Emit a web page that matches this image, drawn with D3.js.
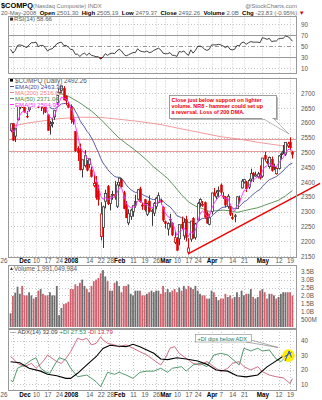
<!DOCTYPE html>
<html><head><meta charset="utf-8">
<script src="https://cdn.jsdelivr.net/npm/d3@7"></script>
<style>
html,body{margin:0;padding:0;background:#fff;}
svg{display:block;}
</style></head><body>
<svg id="c" width="322" height="400"></svg>
<script>
// Trading days shown on the chart
const dates = [
"2007-11-23","2007-11-26","2007-11-27","2007-11-28","2007-11-29","2007-11-30",
"2007-12-03","2007-12-04","2007-12-05","2007-12-06","2007-12-07",
"2007-12-10","2007-12-11","2007-12-12","2007-12-13","2007-12-14",
"2007-12-17","2007-12-18","2007-12-19","2007-12-20","2007-12-21",
"2007-12-24","2007-12-26","2007-12-27","2007-12-28","2007-12-31",
"2008-01-02","2008-01-03","2008-01-04",
"2008-01-07","2008-01-08","2008-01-09","2008-01-10","2008-01-11",
"2008-01-14","2008-01-15","2008-01-16","2008-01-17","2008-01-18",
"2008-01-22","2008-01-23","2008-01-24","2008-01-25",
"2008-01-28","2008-01-29","2008-01-30","2008-01-31","2008-02-01",
"2008-02-04","2008-02-05","2008-02-06","2008-02-07","2008-02-08",
"2008-02-11","2008-02-12","2008-02-13","2008-02-14","2008-02-15",
"2008-02-19","2008-02-20","2008-02-21","2008-02-22",
"2008-02-25","2008-02-26","2008-02-27","2008-02-28","2008-02-29",
"2008-03-03","2008-03-04","2008-03-05","2008-03-06","2008-03-07",
"2008-03-10","2008-03-11","2008-03-12","2008-03-13","2008-03-14",
"2008-03-17","2008-03-18","2008-03-19","2008-03-20",
"2008-03-24","2008-03-25","2008-03-26","2008-03-27","2008-03-28",
"2008-03-31","2008-04-01","2008-04-02","2008-04-03","2008-04-04",
"2008-04-07","2008-04-08","2008-04-09","2008-04-10","2008-04-11",
"2008-04-14","2008-04-15","2008-04-16","2008-04-17","2008-04-18",
"2008-04-21","2008-04-22","2008-04-23","2008-04-24","2008-04-25",
"2008-04-28","2008-04-29","2008-04-30","2008-05-01","2008-05-02",
"2008-05-05","2008-05-06","2008-05-07","2008-05-08","2008-05-09",
"2008-05-12","2008-05-13","2008-05-14","2008-05-15","2008-05-16",
"2008-05-19","2008-05-20"];

const opens = [2574,2597,2555,2610,2653,2690,2655,2622,2645,2664,2712,2711,2718,2710,2650,2655,2627,2590,2597,2620,2668,2702,2710,2716,2690,2660,2653,2612,2571,2514,2506,2443,2455,2460,2460,2441,2388,2400,2369,2216,2247,2335,2384,2328,2355,2357,2318,2399,2407,2364,2320,2262,2284,2300,2335,2342,2377,2319,2340,2291,2336,2303,2295,2318,2330,2337,2315,2266,2241,2274,2262,2196,2206,2208,2258,2218,2273,2163,2207,2278,2213,2272,2329,2323,2330,2293,2257,2300,2363,2350,2371,2390,2353,2350,2318,2318,2281,2286,2310,2345,2380,2400,2400,2383,2410,2430,2420,2418,2430,2420,2490,2470,2452,2477,2448,2428,2446,2493,2505,2494,2522,2535,2501.30];
const highs = [2597,2599,2582,2664,2680,2703,2669,2640,2670,2710,2717,2723,2731,2720,2675,2664,2630,2606,2617,2641,2692,2715,2725,2724,2692,2670,2662,2626,2571,2521,2530,2476,2508,2474,2480,2452,2425,2420,2391,2332,2320,2374,2390,2350,2370,2404,2400,2414,2413,2370,2336,2308,2310,2320,2357,2376,2384,2330,2342,2330,2355,2310,2332,2350,2365,2344,2318,2270,2264,2292,2263,2233,2214,2256,2283,2276,2286,2210,2268,2281,2262,2333,2345,2336,2334,2301,2292,2363,2380,2372,2385,2395,2366,2352,2359,2320,2296,2292,2352,2354,2410,2411,2404,2411,2445,2434,2435,2434,2456,2481,2502,2478,2486,2486,2462,2450,2491,2500,2525,2534,2536,2551,2505.19];
const lows = [2568,2539,2535,2608,2646,2650,2634,2616,2638,2662,2698,2700,2650,2640,2628,2633,2573,2560,2584,2610,2660,2700,2700,2676,2659,2651,2597,2594,2502,2471,2439,2415,2449,2436,2448,2415,2382,2340,2320,2203,2177,2311,2322,2304,2340,2340,2312,2385,2382,2308,2278,2254,2272,2283,2313,2338,2330,2306,2300,2285,2296,2252,2285,2308,2328,2324,2265,2243,2219,2246,2217,2190,2168,2186,2240,2205,2199,2155,2198,2209,2205,2270,2316,2316,2280,2259,2254,2290,2352,2342,2350,2357,2343,2314,2310,2285,2272,2264,2310,2330,2378,2395,2366,2376,2400,2400,2418,2412,2408,2414,2469,2460,2445,2435,2440,2425,2442,2478,2494,2488,2515,2507,2479.37];
const closes = [2596.6,2541,2581,2663,2668,2661,2637,2620,2666,2709,2706,2719,2652,2671,2668,2636,2574,2596,2601,2641,2692,2714,2724,2677,2674,2652,2610,2603,2505,2499,2441,2475,2489,2440,2478,2418,2395,2347,2340,2292,2316,2361,2326,2350,2358,2349,2390,2413,2383,2310,2279,2293,2305,2320,2320,2374,2333,2322,2306,2327,2300,2303,2327,2345,2354,2332,2271,2259,2260,2273,2221,2212,2169,2256,2244,2264,2212,2177,2268,2210,2258,2327,2341,2324,2281,2261,2279,2363,2361,2363,2371,2365,2349,2322,2352,2290,2276,2286,2350,2342,2403,2408,2377,2405,2429,2423,2424,2427,2413,2481,2477,2464,2483,2438,2451,2446,2488,2495,2497,2534,2529,2516.09,2492.26];

// Volume in billions of shares
const volumes = [0.87,1.96,2.17,2.55,2.1,2.6,2.0,2.0,2.2,2.0,1.8,1.9,2.3,2.4,2.1,2.0,2.0,2.2,2.0,2.0,2.6,0.75,1.2,1.45,1.5,1.6,2.4,2.4,2.7,2.6,2.8,3.0,2.6,2.4,2.2,2.6,2.9,3.0,3.1,3.4,3.6,3.2,2.9,2.3,2.3,2.8,2.9,2.6,2.2,2.6,2.6,2.7,2.1,2.0,2.3,2.3,2.3,2.0,2.0,2.1,2.2,2.3,2.2,2.3,2.3,2.1,2.6,2.2,2.4,2.2,2.3,2.4,2.2,2.5,2.3,2.6,2.4,2.6,2.5,2.4,2.6,2.3,2.1,2.0,2.0,1.8,1.8,2.3,2.2,1.9,1.7,1.8,1.8,2.1,1.9,2.0,1.8,1.9,2.2,1.9,2.3,2.0,2.1,2.1,2.4,1.9,1.8,1.9,2.3,2.4,2.2,1.8,2.1,2.1,2.0,1.8,1.9,2.1,2.2,2.2,2.2,2.2,1.991];

// Overlays (one value per trading day)
const ema20 = [2690.0,2675.8,2666.8,2666.4,2666.6,2666.0,2663.3,2659.2,2659.8,2664.5,2668.4,2673.2,2671.2,2671.2,2670.9,2667.6,2658.7,2652.7,2647.8,2647.1,2651.4,2657.3,2663.7,2664.9,2665.8,2664.5,2659.3,2653.9,2639.7,2626.3,2608.7,2596.0,2585.8,2571.9,2563.0,2549.2,2534.5,2516.6,2499.8,2480.0,2464.4,2454.5,2442.3,2433.5,2426.3,2418.9,2416.2,2415.9,2412.8,2403.0,2391.1,2381.8,2374.5,2369.3,2364.6,2365.5,2362.4,2358.6,2353.6,2351.1,2346.2,2342.1,2340.7,2341.1,2342.3,2341.3,2334.6,2327.4,2321.0,2316.4,2307.3,2298.2,2285.9,2283.1,2279.4,2277.9,2271.6,2262.6,2263.1,2258.1,2258.1,2264.6,2271.9,2276.9,2277.3,2275.7,2276.0,2284.3,2291.6,2298.4,2305.3,2311.0,2314.6,2315.3,2318.8,2316.1,2312.3,2309.8,2313.6,2316.3,2324.6,2332.5,2336.7,2343.2,2351.4,2358.2,2364.5,2370.4,2374.5,2384.6,2393.4,2400.1,2408.0,2410.9,2414.7,2417.7,2424.4,2431.1,2437.4,2446.6,2454.4,2460.3,2463.30];
const ema5 = [2585.0,2570.3,2573.9,2603.6,2625.1,2637.1,2637.1,2631.4,2643.0,2665.0,2678.7,2692.1,2678.7,2676.1,2673.4,2660.9,2631.9,2619.9,2613.6,2622.7,2645.8,2668.5,2687.0,2683.7,2680.5,2671.0,2650.7,2634.8,2591.5,2560.7,2520.8,2505.5,2500.0,2480.0,2479.3,2458.9,2437.6,2407.4,2384.9,2353.9,2341.3,2347.9,2340.6,2343.7,2348.5,2348.7,2362.4,2379.3,2380.5,2357.0,2331.0,2318.3,2313.9,2315.9,2317.3,2336.2,2335.1,2330.7,2322.5,2324.0,2316.0,2311.7,2316.8,2326.2,2335.5,2334.3,2313.2,2295.1,2283.4,2279.9,2260.3,2244.2,2219.1,2231.4,2235.6,2245.1,2234.1,2215.1,2232.7,2225.1,2236.1,2266.4,2291.3,2302.2,2295.1,2283.7,2282.1,2309.1,2326.4,2338.6,2349.4,2354.6,2352.7,2342.5,2345.7,2327.1,2310.1,2302.1,2318.0,2326.0,2351.7,2370.5,2372.7,2383.5,2398.6,2406.7,2412.5,2417.3,2415.9,2437.6,2450.7,2455.1,2464.4,2455.6,2454.1,2451.4,2463.6,2474.1,2481.7,2499.1,2509.1,2511.4,2504.95];

// Moving averages as [day index, value]
const ma50 = [[0,2725],[5,2724],[10,2720],[15,2712],[20,2703],[25,2690],[30,2667],[35,2640],[39,2612],[43,2580],[47,2548],[50,2530.2],[53,2512.9],[56,2494.1],[59,2473.3],[62,2450.4],[65,2431.5],[68,2411.9],[71,2385.1],[74,2356.9],[77,2332.7],[80,2318.5],[83,2310.3],[86,2300.9],[89,2303.0],[92,2304.7],[95,2302.8],[98,2297.3],[101,2302.7],[104,2308.1],[107,2313.0],[110,2321.7],[113,2329.9],[116,2338.5],[119,2353.2],[122,2371.04]];
const ma200 = [[0,2588],[8,2600],[21,2614],[30,2619],[39,2618],[47,2612],[56,2604],[65,2594],[73,2581],[82,2567],[91,2553],[99,2545],[108,2533],[117,2523],[122,2516.02]];

// RSI(14), one value per trading day
const rsi = [44,37,42,51,52,51,49,47,52,56,56,57,49,51,51,47,41,44,45,49,54,56,57,51,51,48,44,43,35,35,31,35,37,33,37,33,32,30.5,30.5,26,30,36,33,36,37,36,41,44,41,35,32,34,36,38,38,45,41,40,39,41,38,39,42,44,46,43,37,36,36,38,33,33,31,40,39,41,36,33,43,37,42,49,50,48,44,42,44,52,52,52,53,52,50,47,50,44,43,44,51,50,56,57,53,56,58,57,57,57,56,65,64,62,64,58,59,59,63,64,64,68,67,64,58.66];

// ADX(14), +DI, -DI as [day index, value]
const adx = [[0,25.5],[4,24.8],[8,21],[13,19],[16,16.8],[20,15.8],[24,14],[26,14],[29,17.5],[33,23.3],[37,29],[40,34.8],[43,37],[46,36.5],[50,36],[53,37.7],[56,36],[59,33.7],[62,31.4],[65,27.4],[68,27],[72,28.3],[76,27.4],[81,26],[85,23.7],[89,19.8],[94,19],[98,15.8],[102,15],[107,16.3],[111,22],[114,25.1],[117,28.3],[120,31.4],[122,32.09]];
const plusDI = [[0,12.8],[1,11.6],[3,21],[6,23.3],[9,26.7],[11,28.3],[13,21],[15,18.6],[17,17.4],[19,23.3],[21,28.3],[24,26.7],[26,21],[29,15.1],[33,16.3],[37,11.7],[39,8.2],[42,18.2],[45,16.8],[47,18.2],[50,16.3],[53,14],[56,18.2],[59,19],[62,19],[65,21],[68,18.2],[70,21],[74,22.1],[76,19],[79,23.3],[82,24.4],[85,22.1],[88,30.2],[91,31.4],[94,30.2],[96,27.4],[99,23.3],[101,34.9],[104,33],[107,34.9],[109,33],[112,33.7],[115,27.4],[117,25.6],[120,30.2],[121,31.4],[122,27.53]];
const minusDI = [[0,29],[1,27.9],[3,24.4],[6,22.1],[9,24.4],[11,21],[14,25.6],[16,30.2],[18,27.9],[20,25.6],[22,24.4],[24,27.9],[26,32.5],[29,41.8],[31,40.7],[33,41.8],[35,37.2],[37,38.3],[39,42.9],[40,40.7],[42,38.3],[45,37.2],[47,36],[50,37.2],[53,34.9],[56,32.5],[59,30.2],[62,26.7],[65,23.3],[67,27.9],[69,34.9],[71,36],[73,31.4],[76,27.9],[79,24.4],[82,23.3],[85,25.6],[88,22.1],[91,18.6],[94,21],[96,24.4],[99,25.6],[101,22.1],[104,19.8],[107,22.1],[109,18.6],[112,16.3],[115,15.1],[118,14.4],[120,11.7],[121,10.5],[122,13.79]];

// Hand-drawn study lines on the price panel: [day index, price]
const supportLevels = [2544, 2505];
const trendLine = [[77, 2158], [134, 2395]];

// Axis tick labels
const dateTicks = [["2007-11-26","26"],["2007-12-03","Dec"],["2007-12-10","10"],["2007-12-17","17"],["2007-12-24","24"],["2008-01-02","2008"],["2008-01-14","14"],["2008-01-22","22"],["2008-01-28","28"],["2008-02-01","Feb"],["2008-02-11","11"],["2008-02-19","19"],["2008-02-26","26"],["2008-03-03","Mar"],["2008-03-10","10"],["2008-03-17","17"],["2008-03-24","24"],["2008-04-01","Apr"],["2008-04-07","7"],["2008-04-14","14"],["2008-04-21","21"],["2008-05-01","May"],["2008-05-12","12"],["2008-05-19","19"]];
const boldTicks = ["Dec","2008","Feb","Mar","Apr","May"];
const rsiTicks = [90,70,50,30,10];
const priceTicks = [2700,2650,2600,2550,2500,2450,2400,2350,2300,2250,2200,2150];
const volTicks = [3.5,3.0,2.5,2.0,1.5,1.0,0.5];
const volTickLabels = ["3.5B","3.0B","2.5B","2.0B","1.5B","1.0B","500M"];
const adxTicks = [40,30,20,10];

// ---------------------------------------------------------------
const FONT = '"Liberation Sans", Arial, Helvetica, sans-serif';
const svg = d3.select("#c").style("font-family", FONT);
const L = 8, R = 297;
const n = dates.length;
const x = d3.scaleLinear().domain([0, n - 1]).range([10.6, 292.4]);
const yR = d3.scaleLinear().domain([0, 100]).range([73.5, 18.5]);
const yP = d3.scaleLinear().domain([2150, 2750]).range([256, 78.4]);
const yV = d3.scaleLinear().domain([0, 4]).range([327, 263.8]);
const yA = d3.scaleLinear().domain([0, 45]).range([398.5, 333.7]);
const tickIdx = dateTicks.map(d => dates.indexOf(d[0]));
const tickText = new Map(dateTicks.map(d => [dates.indexOf(d[0]), d[1]]));
const px = v => Math.round(v) + 0.5;

const panels = {
  rsi:   {top: 15.5, bot: 73.5, y: yR, ticks: rsiTicks, fmt: d => d},
  price: {top: 77.5, bot: 257,  y: yP, ticks: priceTicks, fmt: d => d},
  vol:   {top: 265,  bot: 329,  y: yV, ticks: volTicks, fmt: (d, i) => volTickLabels[i]},
  adx:   {top: 329,  bot: 391,  y: yA, ticks: adxTicks, fmt: d => d}
};

const defs = svg.append("defs");
Object.entries(panels).forEach(([k, p]) => {
  defs.append("clipPath").attr("id", "clip-" + k).append("rect")
    .attr("x", L).attr("y", p.top).attr("width", R - L).attr("height", p.bot - p.top);
  const g = svg.append("g").attr("class", "frame-" + k);
  // dotted grid
  g.selectAll("line.vg").data(tickIdx).join("line")
    .attr("x1", d => px(x(d))).attr("x2", d => px(x(d)))
    .attr("y1", p.top).attr("y2", p.bot)
    .attr("stroke", "#c8c8c8").attr("stroke-width", 1).attr("stroke-dasharray", "1,2");
  g.selectAll("line.hg").data(p.ticks).join("line")
    .attr("x1", L).attr("x2", R)
    .attr("y1", d => px(p.y(d))).attr("y2", d => px(p.y(d)))
    .attr("stroke", "#c8c8c8").attr("stroke-width", 1).attr("stroke-dasharray", "1,2");
  // right axis labels
  const ax = svg.append("g").attr("transform", `translate(${R},0)`)
    .call(d3.axisRight(p.y).tickValues(p.ticks).tickFormat(p.fmt).tickSize(0).tickPadding(4));
  ax.select(".domain").remove();
  ax.selectAll("text").attr("font-size", 6.3).attr("fill", "#555").attr("font-family", FONT);
});

// date axes under price and ADX panels
function dateAxis(yPos) {
  const ax = svg.append("g").attr("transform", `translate(0,${yPos})`)
    .call(d3.axisBottom(x).tickValues(tickIdx).tickFormat(d => tickText.get(d)).tickSize(0).tickPadding(0));
  ax.select(".domain").remove();
  ax.selectAll("text").attr("font-size", 6.3).attr("font-family", FONT)
    .attr("fill", d => boldTicks.includes(tickText.get(d)) ? "#000" : "#555")
    .attr("font-weight", d => boldTicks.includes(tickText.get(d)) ? "bold" : "normal")
    .attr("dy", "0.6em")
    .attr("dx", d => d === tickIdx[0] ? -9.5 : 0);
}
dateAxis(259);
dateAxis(393);

// ---------------- RSI panel ----------------
const gR = svg.append("g").attr("clip-path", "url(#clip-rsi)");
[70, 30].forEach(v => gR.append("line").attr("x1", L).attr("x2", R)
  .attr("y1", px(yR(v))).attr("y2", px(yR(v))).attr("stroke", "#999").attr("stroke-width", 1));
gR.append("line").attr("x1", L).attr("x2", R).attr("y1", px(yR(50))).attr("y2", px(yR(50)))
  .attr("stroke", "#999").attr("stroke-dasharray", "4,2,1,2");
defs.append("clipPath").attr("id", "below30").append("rect")
  .attr("x", L).attr("y", yR(30)).attr("width", R - L).attr("height", 20);
gR.append("path").datum(rsi).attr("clip-path", "url(#below30)")
  .attr("d", d3.area().x((d, i) => x(i)).y0(yR(30)).y1(d => yR(d)))
  .attr("fill", "#cc2222");
gR.append("path").datum(rsi)
  .attr("d", d3.line().x((d, i) => x(i)).y(d => yR(d)))
  .attr("fill", "none").attr("stroke", "#111").attr("stroke-width", 0.8);

// ---------------- price panel ----------------
const gP = svg.append("g").attr("clip-path", "url(#clip-price)");
supportLevels.forEach(v => gP.append("line").attr("x1", L).attr("x2", R)
  .attr("y1", px(yP(v))).attr("y2", px(yP(v))).attr("stroke", "#e89a9a").attr("stroke-width", 1));

const lineP = d3.line().x(d => x(d[0])).y(d => yP(d[1]));
gP.append("path").datum(ma200).attr("d", lineP).attr("fill", "none").attr("stroke", "#f09090").attr("stroke-width", 0.9);
gP.append("path").datum(ma50).attr("d", lineP).attr("fill", "none").attr("stroke", "#4f8a4f").attr("stroke-width", 0.9);
gP.append("path").datum(ema20.map((v, i) => [i, v])).attr("d", lineP).attr("fill", "none").attr("stroke", "#4a4a9c").attr("stroke-width", 0.9);

// candlesticks
const candles = gP.append("g");
dates.forEach((d, i) => {
  const o = opens[i], h = highs[i], l = lows[i], c = closes[i];
  const prev = i > 0 ? closes[i - 1] : c;
  const col = c < prev ? "#e00000" : "#3a3a3a";
  const cx = px(x(i));
  candles.append("line").attr("x1", cx).attr("x2", cx).attr("y1", yP(h)).attr("y2", yP(l))
    .attr("stroke", col).attr("stroke-width", 1);
  const top = yP(Math.max(o, c)), bot = yP(Math.min(o, c));
  const hollow = c >= o;
  candles.append("rect")
    .attr("x", cx - 1.1).attr("width", 2.2)
    .attr("y", top).attr("height", Math.max(0.8, bot - top))
    .attr("fill", hollow ? "#fff" : col)
    .attr("stroke", col).attr("stroke-width", hollow ? 0.8 : 0.4);
});
gP.append("path").datum(ema5.map((v, i) => [i, v])).attr("d", lineP).attr("fill", "none").attr("stroke", "#ff30ff").attr("stroke-width", 0.9);

// price legend
const leg = svg.append("g");
leg.append("rect").attr("x", L + 0.5).attr("y", 78).attr("width", 48).attr("height", 29).attr("fill", "#fff");
leg.append("rect").attr("x", 10).attr("y", 78.6).attr("width", 3).attr("height", 3).attr("fill", "#000");
leg.append("text").attr("x", 15).attr("y", 82.5).attr("font-size", 6.3).attr("fill", "#555")
  .text("$COMPQ (Daily) 2492.26");
const legItems = [["EMA(20) 2463.30", "#4a4a9c"], ["MA(200) 2516.02", "#f08080"], ["MA(50) 2371.04", "#4f8a4f"], ["EMA(5) 2504.95", "#ff30ff"]];
legItems.forEach((it, k) => {
  const yy = 88.5 + k * 6;
  leg.append("line").attr("x1", 10).attr("x2", 14).attr("y1", yy - 2).attr("y2", yy - 2).attr("stroke", it[1]).attr("stroke-width", 1);
  leg.append("text").attr("x", 15).attr("y", yy).attr("font-size", 6.1).attr("fill", it[1]).text(it[0]);
});

// trend line (drawn past the plot edge)
svg.append("line")
  .attr("x1", x(trendLine[0][0])).attr("y1", yP(trendLine[0][1]))
  .attr("x2", x(trendLine[1][0])).attr("y2", yP(trendLine[1][1]))
  .attr("stroke", "#ee0000").attr("stroke-width", 1.4);

// comment box
const note = svg.append("g");
note.append("rect").attr("x", 171).attr("y", 97).attr("width", 107).attr("height", 23).attr("fill", "#bbb");
note.append("path").attr("d", "M262,118 L289,134 L273,118 Z").attr("fill", "#fff").attr("stroke", "#888").attr("stroke-width", 0.6);
note.append("rect").attr("x", 169.5).attr("y", 95.5).attr("width", 107).attr("height", 23).attr("fill", "#fff").attr("stroke", "#888").attr("stroke-width", 0.8);
note.append("rect").attr("x", 262.5).attr("y", 117).attr("width", 10).attr("height", 2).attr("fill", "#fff");
["Close just below support on lighter", "volume.  NR8 - hammer could set up", "a reversal.  Loss of 200 DMA."]
  .forEach((t, k) => note.append("text").attr("x", 171.5).attr("y", 101.5 + k * 6.4)
    .attr("font-size", 5.4).attr("font-weight", "bold").attr("fill", "#ee0000").text(t));

// ---------------- volume panel ----------------
const gV = svg.append("g").attr("clip-path", "url(#clip-vol)");
gV.selectAll("rect").data(volumes).join("rect")
  .attr("x", (d, i) => x(i) - 0.9).attr("width", 1.8)
  .attr("y", d => yV(d)).attr("height", d => yV(0) - yV(d))
  .attr("fill", (d, i) => i > 0 && closes[i] < closes[i - 1] ? "#d0606c" : "#6e6e6e");
svg.append("path").attr("d", "M10,270 l1.5,-3 l1.5,3 z").attr("fill", "#333");
svg.append("text").attr("x", 14).attr("y", 270.5).attr("font-size", 6.3).attr("fill", "#555")
  .text("Volume 1,991,049,984");

// ---------------- ADX panel ----------------
const gA = svg.append("g").attr("clip-path", "url(#clip-adx)");
const lineA = d3.line().x(d => x(d[0])).y(d => yA(d[1]));
gA.append("path").datum(minusDI).attr("d", lineA).attr("fill", "none").attr("stroke", "#cc5f78").attr("stroke-width", 0.9);
gA.append("path").datum(plusDI).attr("d", lineA).attr("fill", "none").attr("stroke", "#3f8f5f").attr("stroke-width", 0.9);
gA.append("path").datum(adx).attr("d", lineA).attr("fill", "none").attr("stroke", "#000").attr("stroke-width", 1.1);

const adxLeg = svg.append("text").attr("x", 10).attr("y", 334).attr("font-size", 6.1);
adxLeg.append("tspan").attr("fill", "#444").text("— ADX(14) 32.09 ");
adxLeg.append("tspan").attr("fill", "#2f8f4f").text("+DI 27.53 ");
adxLeg.append("tspan").attr("fill", "#cc3050").text("-DI 13.79");

// highlighted crossover
svg.append("circle").attr("cx", x(120.3)).attr("cy", yA(29.8)).attr("r", 6.3).attr("fill", "#ffee00");
svg.append("path").attr("d", `M${x(118.8)},${yA(26)} L${x(120.6)},${yA(33)} L${x(121.6)},${yA(28.5)}`)
  .attr("fill", "none").attr("stroke", "#3050d0").attr("stroke-width", 1);
svg.append("path").attr("d", `M${x(118.6)},${yA(29)} L${x(121.6)},${yA(32)}`)
  .attr("fill", "none").attr("stroke", "#3050d0").attr("stroke-width", 1);

const adxNote = svg.append("g");
adxNote.append("path").attr("d", "M246,342 L278,347.5 L251,340").attr("fill", "none").attr("stroke", "#777").attr("stroke-width", 0.6);
adxNote.append("rect").attr("x", 195.5).attr("y", 334.5).attr("width", 56).attr("height", 7.5).attr("fill", "#fff").attr("stroke", "#888").attr("stroke-width", 0.6);
adxNote.append("text").attr("x", 197.5).attr("y", 340.5).attr("font-size", 5.6).attr("fill", "#1f7a5a").text("+DI dips below ADX");

// ---------------- header ----------------
svg.append("text").attr("x", 1).attr("y", 8).attr("font-size", 7.4).attr("font-weight", "bold").attr("fill", "#000").text("$COMPQ");
svg.append("text").attr("x", 33).attr("y", 7.5).attr("font-size", 5.8).attr("fill", "#777").text("(Nasdaq Composite)  INDX");
svg.append("text").attr("x", 297).attr("y", 7.5).attr("font-size", 6).attr("fill", "#777").attr("text-anchor", "end").text("@StockCharts.com");
const hdr = svg.append("text").attr("x", 1).attr("y", 14.5).attr("font-size", 6);
[["20-May-2008  ", "#666", "normal"], ["Open ", "#000", "bold"], ["2501.30  ", "#666", "normal"],
 ["High ", "#000", "bold"], ["2505.19  ", "#666", "normal"], ["Low ", "#000", "bold"], ["2479.37  ", "#666", "normal"],
 ["Close ", "#000", "bold"], ["2492.26  ", "#666", "normal"], ["Volume ", "#000", "bold"], ["2.0B  ", "#666", "normal"],
 ["Chg ", "#000", "bold"], ["-23.83 (-0.95%)", "#666", "normal"], [" ▼", "#dd0000", "normal"]]
  .forEach(s => hdr.append("tspan").attr("fill", s[1]).attr("font-weight", s[2]).attr("xml:space", "preserve").text(s[0]));
svg.append("rect").attr("x", 10).attr("y", 17.6).attr("width", 3).attr("height", 3).attr("fill", "#333");
svg.append("text").attr("x", 14).attr("y", 21.3).attr("font-size", 6.1).attr("fill", "#555").text("RSI(14) 58.66");

// panel borders on top
Object.values(panels).forEach(p => svg.append("rect")
  .attr("x", L + 0.5).attr("y", Math.round(p.top) + 0.5).attr("width", R - L - 1).attr("height", Math.round(p.bot - p.top) - 1)
  .attr("fill", "none").attr("stroke", "#999").attr("stroke-width", 1));
</script></body></html>
